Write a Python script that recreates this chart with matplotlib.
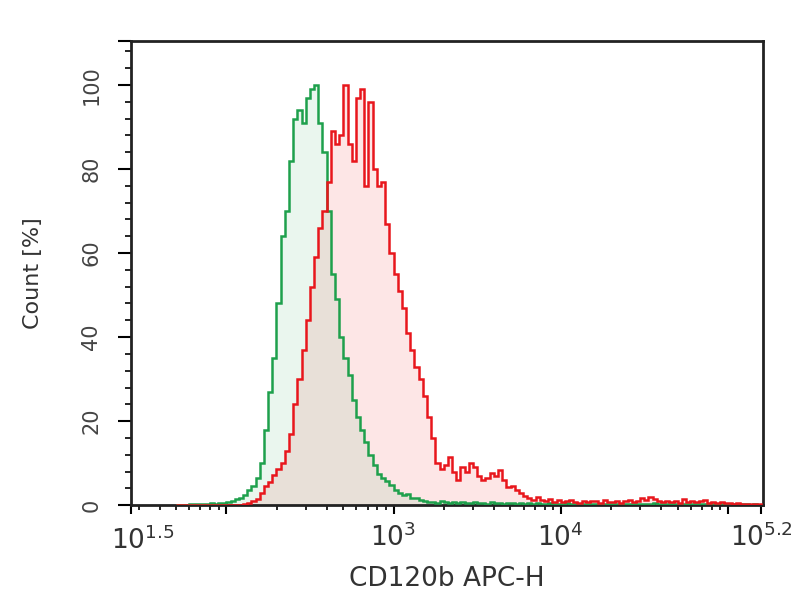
import matplotlib
matplotlib.use("Agg")
import matplotlib.pyplot as plt
import numpy as np
from matplotlib.ticker import FixedLocator, LogLocator, MultipleLocator, NullFormatter

plt.rcParams['font.family'] = ['DejaVu Sans']
plt.rcParams['mathtext.fontset'] = 'dejavusans'

# histogram channels: bin left edge in log10 units, width 0.025 decade
log_start = 1.70
log_step = 0.025

# isotype control (green), count in % of max
green_counts = [
    0, 0, 0, 0.2, 0.3, 0.2, 0.4, 0.3, 0.5, 0.4,
    0.6, 0.5, 0.8, 1.0, 1.4, 1.8, 2.5, 3.6, 4.5, 6.5,
    10, 18, 27, 35, 48, 64, 70, 82, 92, 94,
    91, 97, 99, 100, 91, 84, 70, 55, 49, 40,
    35, 31, 25, 21, 18, 15, 12, 9.5, 7.5, 6.5,
    5.8, 4.8, 3.5, 2.8, 2.4, 2.6, 1.8, 1.7, 1.2, 1.0,
    0.7, 0.8, 0.6, 0.9, 0.7, 0.5, 0.8, 0.6, 0.7, 0.5,
    0.6, 0.8, 0.5, 0.6, 0.4, 0.7, 0.5, 0.6, 0.4, 0.5,
    0.6, 0.4, 0.5, 0.3, 0.5, 0.4, 0.6, 0.3, 0.4, 0.5,
    0.3, 0.4, 0.3, 0.5, 0.3, 0.2, 0.4, 0.3, 0.2, 0.3,
    0.4, 0.2, 0.3, 0.2, 0.3, 0.4, 0.2, 0.3, 0.2, 0.3,
    0.4, 0.3, 0.2, 0.3, 0.5, 0.3, 0.2, 0.3, 0.2, 0.4,
    0.3, 0.2, 0.3, 0.2, 0.3, 0.2, 0.3, 0.2, 0.2, 0.3,
    0.2, 0.3, 0.2, 0.2, 0.3, 0.2, 0.2, 0.1, 0.2, 0.1,
]

# CD120b stained (red)
red_counts = [
    0, 0, 0, 0, 0, 0, 0, 0, 0, 0,
    0, 0, 0, 0, 0, 0, 0.3, 0.6, 0.9, 1.5,
    3.0, 4.5, 5.5, 7.2, 8.5, 10, 13, 17, 24, 30,
    37, 44, 52, 59, 66, 70, 77, 89, 86, 88,
    100, 86, 82, 97, 99, 76, 96, 80, 76, 77,
    67, 60, 55, 51, 47, 41, 37, 33, 30, 26,
    21, 16, 10, 8.5, 9.5, 11.5, 8, 6, 9, 8,
    10, 9, 7, 6, 6.5, 7.6, 7, 8.3, 6, 4.3,
    4.5, 3.6, 3.0, 2.2, 1.7, 1.2, 2.0, 1.3, 1.0, 1.4,
    0.8, 1.2, 0.7, 1.0, 1.3, 0.8, 0.6, 1.0, 0.7, 1.1,
    0.9, 0.6, 1.2, 0.8, 0.7, 1.0, 0.6, 0.9, 1.3, 0.8,
    1.0, 1.6, 1.2, 2.0, 1.4, 0.9, 0.8, 1.1, 0.7, 1.0,
    0.6, 1.4, 0.8, 1.1, 0.7, 0.9, 1.2, 0.6, 0.8, 0.5,
    0.7, 0.5, 0.6, 0.4, 0.5, 0.3, 0.4, 0.3, 0.2, 0.2,
]

x_label = 'CD120b APC-H'
y_label = 'Count [%]'
x_tick_exp = [3, 4, 5.2]
y_tick_vals = [0, 20, 40, 60, 80, 100]

n_bins = len(green_counts)
edges = 10 ** (log_start + log_step * np.arange(n_bins + 1))

fig = plt.figure(figsize=(8.04, 6.0), dpi=100)
ax = fig.add_axes([0.163, 0.158, 0.786, 0.774])

x_lo, x_hi = 10 ** 1.43, 10 ** 5.21
y_top = 110.5

red_line = '#e8161c'
green_line = '#1ea04c'

ax.stairs(red_counts, edges, fill=True, color='#fde6e6', zorder=1)
ax.stairs(green_counts, edges, fill=True, color='#73c38d', alpha=0.15, linewidth=0, zorder=2)
ax.stairs(green_counts, edges, color=green_line, linewidth=1.8, zorder=3)
ax.stairs(red_counts, edges, color=red_line, linewidth=1.8, zorder=4)

ax.set_xscale('log')
ax.set_xlim(x_lo, x_hi)
ax.set_ylim(0, y_top)

# x ticks
major_x = [x_lo, 1e2, 10 ** x_tick_exp[0], 10 ** x_tick_exp[1], 1e5, 10 ** x_tick_exp[2]]
labels_x = ['', '', '$10^{3}$', '$10^{4}$', '', '$10^{5.2}$']
ax.xaxis.set_major_locator(FixedLocator(major_x))
ax.set_xticklabels(labels_x)
ax.xaxis.set_minor_locator(LogLocator(base=10, subs=np.arange(2, 10)))
ax.xaxis.set_minor_formatter(NullFormatter())
ax.text(10 ** 1.5, -0.045, '$10^{1.5}$', transform=ax.get_xaxis_transform(),
        ha='center', va='top', fontsize=19, color='#333333')

# y ticks
ax.yaxis.set_major_locator(FixedLocator(y_tick_vals + [y_top]))
ax.set_yticklabels([str(v) for v in y_tick_vals] + [''])
ax.yaxis.set_minor_locator(MultipleLocator(4))

ax.tick_params(axis='x', which='major', direction='out', length=6.5, width=1.5,
               labelsize=19, pad=7, labelcolor='#333333', top=False)
ax.tick_params(axis='x', which='minor', direction='out', length=3.5, width=1.2, top=False)
ax.tick_params(axis='y', which='major', direction='out', length=9.5, width=1.5,
               labelsize=15, pad=12, labelcolor='#444444', right=False)
ax.tick_params(axis='y', which='minor', direction='out', length=4.5, width=1.2, right=False)
for lbl in ax.get_yticklabels():
    lbl.set_rotation(90)
    lbl.set_va('center')

for sp in ax.spines.values():
    sp.set_linewidth(2)
    sp.set_color('#222222')

ax.set_xlabel(x_label, fontsize=19, color='#333333')
ax.xaxis.set_label_coords(0.5, -0.13)
ax.set_ylabel(y_label, fontsize=16, color='#333333')
ax.yaxis.set_label_coords(-0.139, 0.5)

fig.savefig('out.png', dpi=100)
